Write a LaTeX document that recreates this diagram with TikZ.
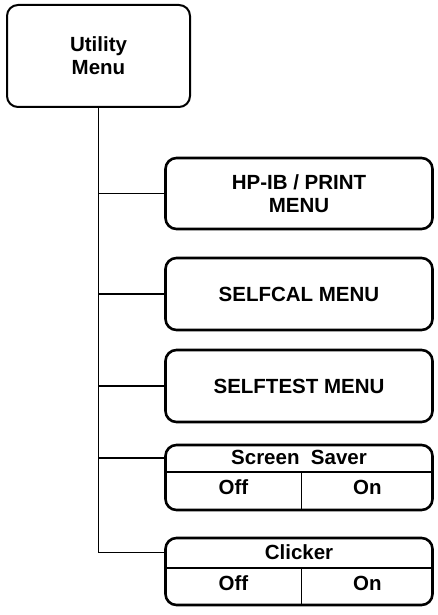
\documentclass[tikz,border=0pt]{standalone}
\usepackage{fontspec}
\setmainfont{Liberation Sans}
\usetikzlibrary{positioning,calc}

\tikzset{
  menufont/.style={font=\bfseries\fontsize{20.5}{23}\selectfont},
  menubox/.style={draw,line width=2.6pt,rounded corners=11pt,minimum width=267pt,
    inner sep=0pt,align=center,menufont},
  rowtitle/.style={minimum width=267pt,minimum height=28pt,inner sep=0pt,menufont},
  rowcell/.style={minimum height=37pt,inner sep=0pt,text height=0.72em,text depth=0pt,menufont},
  divider/.style={line width=1.4pt},
  trunk/.style={line width=1.4pt}
}

\begin{document}
\begin{tikzpicture}[x=1pt,y=-1pt]
  \useasboundingbox (0,0) rectangle (438,615);
  % top menu
  \node[menubox,line width=2pt,minimum width=183pt,minimum height=102pt] (util) at (98.5,56) {Utility\\Menu};
  % sub menus
  \node[menubox,minimum height=71pt] (hpib) at (299,193.5) {HP-IB / PRINT\\MENU};
  \node[menubox,minimum height=72pt] (selfcal) at (299,294) {SELFCAL MENU};
  \node[menubox,minimum height=72pt] (selftest) at (299,386) {SELFTEST MENU};
  % on/off toggles
  \node[menubox,minimum height=65pt] (saver) at (299,477.5) {};
  \node[rowtitle,below=0pt of saver.north] (saverT) {Screen\ \ Saver};
  \node[rowcell,minimum width=136pt,below right=0pt and 0pt of saverT.south west] (saverOff) {Off};
  \node[rowcell,minimum width=131pt,right=0pt of saverOff] (saverOn) {On};
  \draw[divider] (saverT.south west) -- (saverT.south east);
  \draw[divider] (saverOff.north east) -- (saver.south -| saverOff.east);

  \node[menubox,minimum height=67pt] (clicker) at (299,571.5) {};
  \node[rowtitle,minimum height=31pt,below=0pt of clicker.north] (clickerT) {Clicker};
  \node[rowcell,minimum width=136pt,below right=0pt and 0pt of clickerT.south west] (clickerOff) {Off};
  \node[rowcell,minimum width=131pt,right=0pt of clickerOff] (clickerOn) {On};
  \draw[divider] (clickerT.south west) -- (clickerT.south east);
  \draw[divider] (clickerOff.north east) -- (clicker.south -| clickerOff.east);
  % connectors
  \draw[trunk] (util.south) |- (clickerT.west);
  \foreach \m in {hpib,selfcal,selftest,saverT}
    \draw[trunk] (util.south |- \m.west) -- (\m.west);
\end{tikzpicture}
\end{document}
